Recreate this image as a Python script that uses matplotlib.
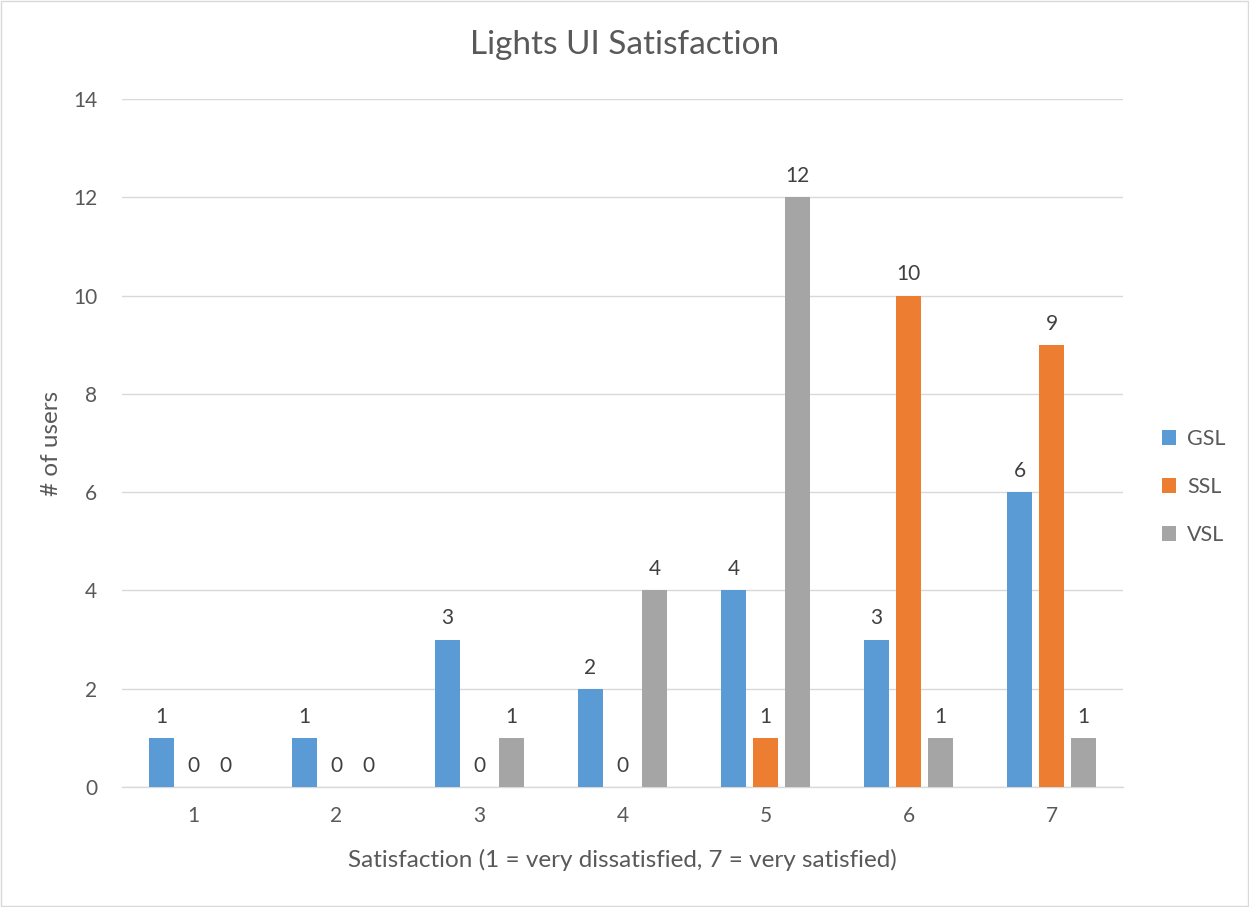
import matplotlib.pyplot as plt
import numpy as np
from matplotlib.patches import Rectangle

plt.rcParams['font.family'] = ['Lato', 'DejaVu Sans']

categories = ['1', '2', '3', '4', '5', '6', '7']
gsl = [1, 1, 3, 2, 4, 3, 6]
ssl = [0, 0, 0, 0, 1, 10, 9]
vsl = [0, 0, 1, 4, 12, 1, 1]
series = [('GSL', gsl, '#5B9BD5'), ('SSL', ssl, '#ED7D31'), ('VSL', vsl, '#A5A5A5')]

TXT = '#595959'

fig = plt.figure(figsize=(12.49, 9.07), dpi=100)
fig.patch.set_facecolor('white')
# thin frame round the chart area
fig.add_artist(Rectangle((0.0008, 0.0011), 0.9984, 0.9978, transform=fig.transFigure,
                         fill=False, edgecolor='#D9D9D9', linewidth=1))

ax = fig.add_axes([0.0977, 0.1323, 0.8014, 0.7585])
x = np.arange(len(categories))
width = 0.175
step = 0.224

for i, (name, vals, col) in enumerate(series):
    pos = x + (i - 1) * step
    ax.bar(pos, vals, width, color=col, label=name, zorder=3)
    for p, v in zip(pos, vals):
        ax.annotate(str(v), (p, v), xytext=(0, 8), textcoords='offset points',
                    ha='center', va='bottom', fontsize=15, color='#404040')

ax.set_xlim(-0.5, 6.5)
ax.set_ylim(0, 14)
ax.set_yticks(range(0, 15, 2))
ax.set_xticks(x)
ax.set_xticklabels(categories)
ax.grid(axis='y', color='#D9D9D9', linewidth=1, zorder=0)
for s in ['top', 'right', 'left']:
    ax.spines[s].set_visible(False)
ax.spines['bottom'].set_color('#D9D9D9')
ax.spines['bottom'].set_linewidth(1)
ax.tick_params(axis='both', length=0, labelsize=15, labelcolor=TXT)
ax.tick_params(axis='x', pad=14)
ax.tick_params(axis='y', pad=18)

ax.set_xlabel('Satisfaction (1 = very dissatisfied, 7 = very satisfied)',
              fontsize=17.5, color=TXT, labelpad=16)
ax.set_ylabel('# of users', fontsize=17.5, color=TXT, labelpad=8)
fig.text(0.5, 0.95, 'Lights UI Satisfaction', ha='center', va='center',
         fontsize=24, color=TXT)

ax.legend(loc='center left', bbox_to_anchor=(1.02, 0.436), frameon=False,
          fontsize=15.5, labelcolor=TXT, handlelength=0.65, handleheight=0.65,
          handletextpad=0.5, labelspacing=1.3)

fig.savefig('out.png', dpi=100, facecolor='white')
